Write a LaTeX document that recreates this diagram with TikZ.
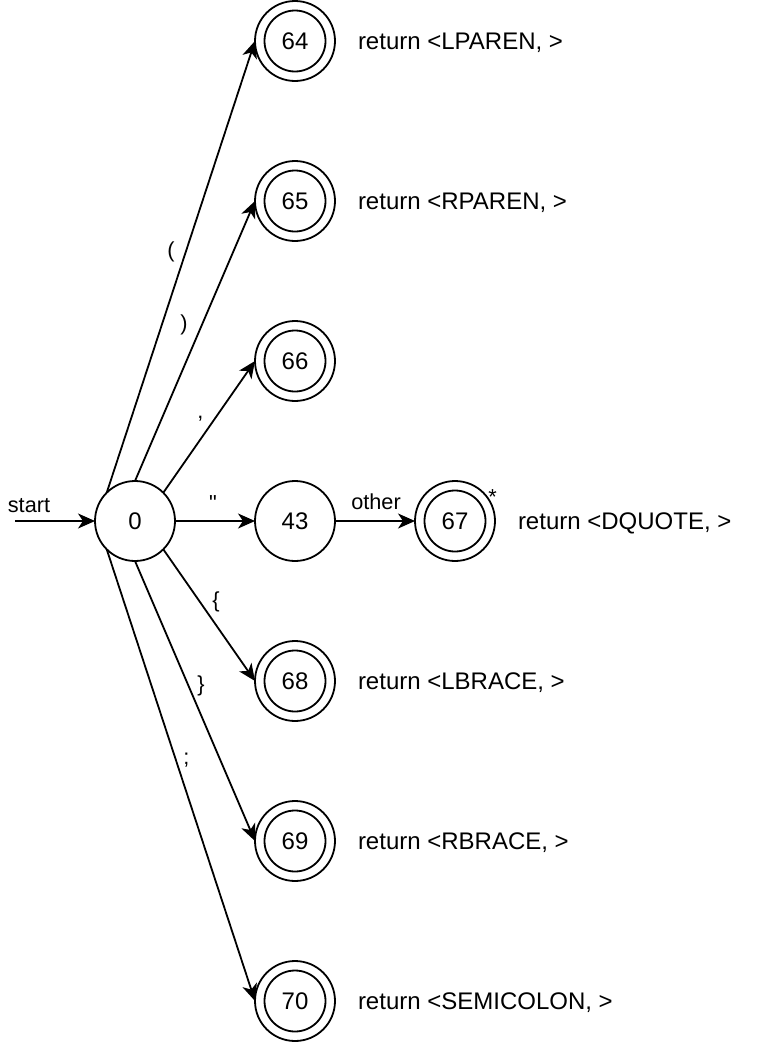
\documentclass[tikz,border=0pt]{standalone}
\usepackage{fontspec}
\setmainfont{Liberation Sans}[Ligatures=TeXOff]
\usetikzlibrary{arrows.meta}
\begin{document}
\begin{tikzpicture}[x=1pt,y=-1pt,
  every node/.style={inner sep=0pt,outer sep=0pt},
  state/.style={circle,draw,line width=1.8pt,minimum size=80pt,font=\fontsize{24}{28}\selectfont},
  accept/.style={state,path picture={\draw[line width=1.8pt] (path picture bounding box.center) circle (30.5pt);}},
  arr/.style={line width=1.8pt,-{Stealth[length=17pt,width=15pt,inset=5pt]}},
  lab/.style={font=\fontsize{21.7}{26}\selectfont,anchor=base},
  ret/.style={font=\fontsize{24}{28}\selectfont,anchor=base west}]
\useasboundingbox (0,0) rectangle (758,1044);
\fill[white] (0,0) rectangle (758,1044);
\node[state] (n0) at (135,521) {0};
\node[state] (n43) at (295,521) {43};
\node[accept] (n64) at (295,41) {64};
\node[accept] (n65) at (295,201) {65};
\node[accept] (n66) at (295,361) {66};
\node[accept] (n67) at (455,521) {67};
\node[accept] (n68) at (295,681) {68};
\node[accept] (n69) at (295,841) {69};
\node[accept] (n70) at (295,1001) {70};
\coordinate (s) at (15,521);
\draw[arr] (s) -- (n0.west);
\node[lab] (tstart) at (29,512) {start};
\draw[arr] (n0.135) -- (n64.west);
\draw[arr] (n0.90) -- (n65.west);
\draw[arr] (n0.45) -- (n66.west);
\draw[arr] (n0.east) -- (n43.west);
\draw[arr] (n0.-45) -- (n68.west);
\draw[arr] (n0.-90) -- (n69.west);
\draw[arr] (n0.-135) -- (n70.west);
\draw[arr] (n43.east) -- (n67.west);
\node[lab] (l1) at (171,257) {(};
\node[lab] (l2) at (184,330.5) {)};
\node[lab] (l3) at (200.5,418) {,};
\node[lab] (l4) at (213,510.5) {"};
\node[lab] (l5) at (216,607.5) {\{};
\node[lab] (l6) at (201,691.5) {\}};
\node[lab] (l7) at (186.5,764) {;};
\node[lab] (l8) at (376,509.3) {other};
\node[lab] (ast) at (492.5,504) {*};
\node[ret] (r64) at (358,49.5) {return <LPAREN, >};
\node[ret] (r65) at (358,209.5) {return <RPAREN, >};
\node[ret] (r67) at (518,529.5) {return <DQUOTE, >};
\node[ret] (r68) at (358,689.5) {return <LBRACE, >};
\node[ret] (r69) at (358,849.5) {return <RBRACE, >};
\node[ret] (r70) at (358,1009.5) {return <SEMICOLON, >};
\end{tikzpicture}
\end{document}
